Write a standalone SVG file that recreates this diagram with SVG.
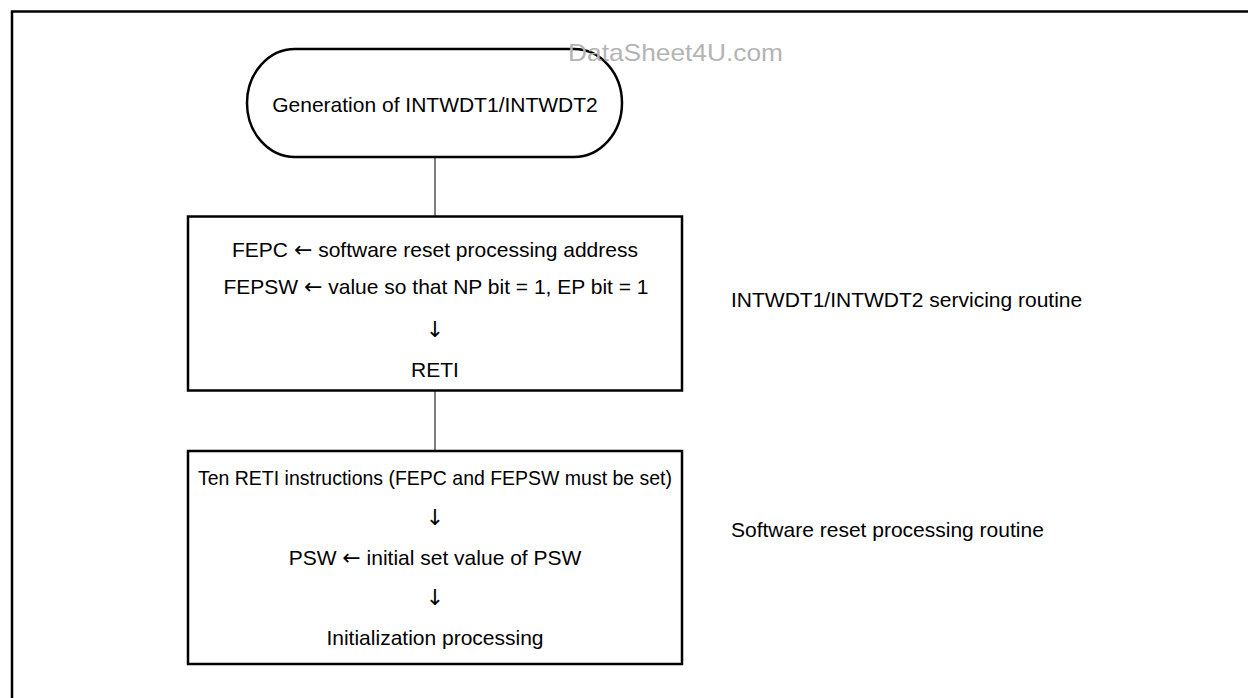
<svg xmlns="http://www.w3.org/2000/svg" width="1248" height="698" viewBox="0 0 1248 698">
<style>
  text { font-family: "Liberation Sans", Arial, sans-serif; font-size: 21px; fill: #000; }
  .c { text-anchor: middle; }
  .ar { font-family: "DejaVu Sans", "Noto Sans", sans-serif; font-size: 22px; }
  .box { fill: #fff; stroke: #000; stroke-width: 2.5; }
  .frame { fill: none; stroke: #000; stroke-width: 2.5; }
  .conn { stroke: #000; stroke-width: 1; fill: none; }
  .wm { fill: #b4b4b4; font-size: 24px; }
</style>
<rect width="1248" height="698" fill="#fff"/>
<path class="frame" d="M12,698 V11.5 H1248"/>
<g id="connectors">
  <line class="conn" x1="435" y1="157" x2="435" y2="217"/>
  <line class="conn" x1="435" y1="391" x2="435" y2="451"/>
</g>
<g id="start">
  <path class="box" d="M295,49 H574 A48,54 0 0 1 574,157 H295 A48,54 0 0 1 295,49 Z"/>
  <text class="c" x="435" y="112">Generation of INTWDT1/INTWDT2</text>
</g>
<text class="wm" x="568" y="61" textLength="215" lengthAdjust="spacingAndGlyphs">DataSheet4U.com</text>
<g id="servicing">
  <rect class="box" x="188" y="216.5" width="494" height="174"/>
  <text class="c" x="435" y="257">FEPC <tspan class="ar">←</tspan> software reset processing address</text>
  <text class="c" x="436" y="294">FEPSW <tspan class="ar">←</tspan> value so that NP bit = 1, EP bit = 1</text>
  <text class="c ar" x="435" y="337">↓</text>
  <text class="c" x="435" y="377">RETI</text>
</g>
<g id="reset">
  <rect class="box" x="188" y="451" width="494" height="213"/>
  <text class="c" x="435" y="485" textLength="474" lengthAdjust="spacingAndGlyphs">Ten RETI instructions (FEPC and FEPSW must be set)</text>
  <text class="c ar" x="435" y="525">↓</text>
  <text class="c" x="435" y="565">PSW <tspan class="ar">←</tspan> initial set value of PSW</text>
  <text class="c ar" x="435" y="605">↓</text>
  <text class="c" x="435" y="645">Initialization processing</text>
</g>
<g id="label-servicing">
  <text x="731" y="307">INTWDT1/INTWDT2 servicing routine</text>
</g>
<g id="label-reset">
  <text x="731" y="537">Software reset processing routine</text>
</g>
</svg>
